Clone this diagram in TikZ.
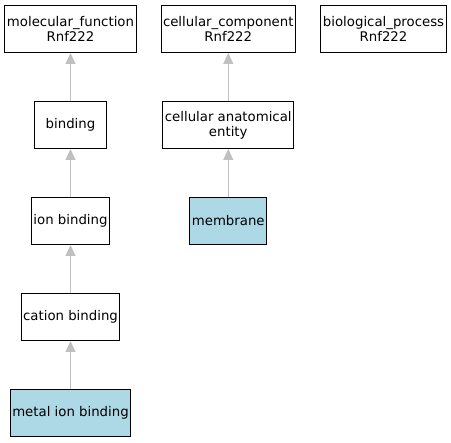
\documentclass[tikz,border=0pt]{standalone}
\usepackage{fontspec}
\setmainfont{DejaVu Sans}
\usepackage{tikz}
\usetikzlibrary{arrows.meta,positioning}
\definecolor{leafblue}{RGB}{173,216,230}
\definecolor{edgegray}{RGB}{192,192,192}
\tikzstyle{goterm}=[rectangle,draw=black,line width=1pt,fill=white,
                  minimum height=47pt,inner sep=2pt,align=center,
                  font=\fontsize{13.3pt}{15pt}\selectfont]
\tikzstyle{leafterm}=[goterm,fill=leafblue]
\tikzstyle{isa}=[-{Triangle[length=11pt,width=10pt]},line width=1.2pt,draw=edgegray,color=edgegray]

\begin{document}
\begin{tikzpicture}[node distance=48pt and 24pt]
      \useasboundingbox (0pt,0pt) rectangle (451pt,-443pt);
      \node[goterm,minimum width=130pt] (mf) at (70.5pt,-29pt) {molecular\_function\\Rnf222};
      \node[goterm,minimum width=133pt,right=of mf] (cc) {cellular\_component\\Rnf222};
      \node[goterm,minimum width=126pt,right=of cc] (bp) {biological\_process\\Rnf222};
      \node[goterm,minimum width=72pt,below=of mf] (bind) {binding};
      \node[goterm,minimum width=130pt,below=of cc] (cae) {cellular anatomical\\entity};
      \node[goterm,minimum width=77pt,below=of bind] (ionb) {ion binding};
      \node[leafterm,minimum width=77pt,below=of cae] (memb) {membrane};
      \node[goterm,minimum width=98pt,below=of ionb] (catb) {cation binding};
      \node[leafterm,minimum width=120pt,below=of catb] (metb) {metal ion binding};

      \draw[isa] (bind)--(mf);
      \draw[isa] (ionb)--(bind);
      \draw[isa] (catb)--(ionb);
      \draw[isa] (metb)--(catb);
      \draw[isa] (cae)--(cc);
      \draw[isa] (memb)--(cae);
    \end{tikzpicture}
\end{document}
